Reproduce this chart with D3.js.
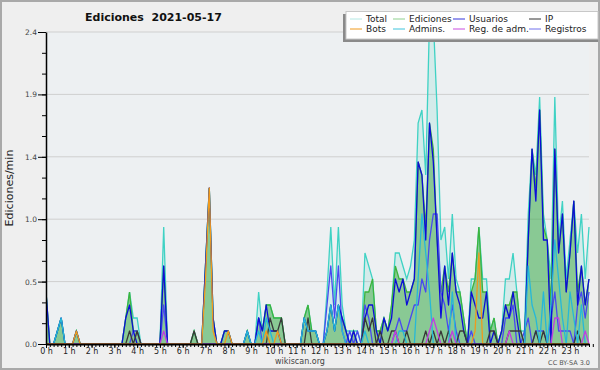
<!DOCTYPE html>
<html>
<head>
<meta charset="utf-8">
<script src="https://d3js.org/d3.v7.min.js"></script>
<style>
  body { margin: 0; background: #fff; }
  svg text { font-family: "DejaVu Sans", sans-serif; }
</style>
</head>
<body>
<svg id="chart" width="600" height="370"></svg>
<script>
// edits counted per 10-minute bin (144 bins, 00:00 .. 23:50)
const binMinutes = 10;

const hourLabels = ['0 h','1 h','2 h','3 h','4 h','5 h','6 h','7 h','8 h','9 h','10 h','11 h',
                    '12 h','13 h','14 h','15 h','16 h','17 h','18 h','19 h','20 h','21 h','22 h','23 h'];
const yTickValues = [0, 0.48, 0.96, 1.44, 1.92, 2.4];

const totalBins = [
  4,0,0,1,2,0,0,0,1,0,0,0,
  0,0,0,0,0,0,0,0,0,2,4,2,
  2,0,0,0,0,0,0,9,0,0,0,0,
  0,0,0,1,0,0,6,12,2,0,0,1,
  1,0,0,0,0,1,0,0,4,1,3,3,
  2,2,2,0,0,0,0,0,2,3,1,1,
  0,0,4,9,3,9,3,1,1,1,1,0,
  7,6,5,1,1,2,1,3,7,7,6,5,
  6,8,17,18,13,25,25,18,8,9,5,10,
  5,4,2,0,5,5,9,5,5,1,2,0,
  1,5,5,7,4,1,1,10,15,13,19,10,
  8,5,19,8,11,5,8,11,7,10,5,9
];
const edicionesBins = [
  4,0,0,1,2,0,0,0,1,0,0,0,
  0,0,0,0,0,0,0,0,0,2,4,1,
  1,0,0,0,0,0,0,6,0,0,0,0,
  0,0,0,1,0,0,6,12,2,0,0,1,
  1,0,0,0,0,1,0,0,2,1,3,3,
  2,2,2,0,0,0,0,0,2,3,1,1,
  0,0,1,3,1,3,2,1,0,1,0,0,
  4,4,5,1,1,2,1,3,6,5,5,4,
  4,5,14,13,9,17,15,8,4,6,4,7,
  4,4,2,0,4,5,9,4,4,1,2,0,
  1,3,3,4,4,1,0,8,15,12,18,9,
  8,3,15,7,10,4,7,11,4,6,3,5
];
const usuariosBins = [
  4,0,0,1,2,0,0,0,1,0,0,0,
  0,0,0,0,0,0,0,0,0,2,3,1,
  0,0,0,0,0,0,0,6,0,0,0,0,
  0,0,0,0,0,0,6,12,2,0,0,1,
  1,0,0,0,0,1,0,0,2,1,3,1,
  1,1,0,0,0,0,0,0,2,1,1,1,
  0,0,1,3,1,3,2,1,0,1,0,0,
  2,3,3,1,0,2,1,2,5,4,5,3,
  4,5,14,13,8,17,14,8,2,6,3,7,
  4,3,1,0,4,3,2,2,4,0,1,0,
  1,3,2,4,2,0,0,8,15,11,18,8,
  8,0,15,7,10,4,7,11,3,6,3,5
];
const ipBins = [
  0,0,0,0,0,0,0,0,0,0,0,0,
  0,0,0,0,0,0,0,0,0,0,1,0,
  1,0,0,0,0,0,0,0,0,0,0,0,
  0,0,0,1,0,0,0,0,0,0,0,0,
  0,0,0,0,0,0,0,0,0,0,0,2,
  1,1,2,0,0,0,0,0,0,2,0,0,
  0,0,0,0,0,0,0,0,0,0,0,0,
  2,1,2,0,1,0,0,1,1,0,0,1,
  0,0,0,0,1,0,1,0,1,0,1,0,
  0,1,1,0,0,0,0,0,0,1,1,0,
  0,0,1,1,1,1,0,0,0,1,0,1,
  0,0,0,0,0,0,0,0,1,0,0,0
];
const botsBins = [
  0,0,0,0,0,0,0,0,1,0,0,0,
  0,0,0,0,0,0,0,0,0,0,0,0,
  0,0,0,0,0,0,0,0,0,0,0,0,
  0,0,0,0,0,0,5,12,1,0,0,0,
  1,0,0,0,0,0,0,0,0,0,1,0,
  0,1,0,0,0,0,0,0,0,0,0,0,
  0,0,0,0,0,0,0,0,0,0,0,0,
  0,0,0,0,0,0,0,0,0,0,0,0,
  0,0,0,0,0,0,0,0,0,0,0,0,
  0,0,0,0,0,1,7,0,0,0,0,0,
  0,0,0,0,0,0,0,0,0,0,0,0,
  0,0,0,0,0,0,0,0,0,0,0,0
];
const adminsBins = [
  0,0,0,1,2,0,0,0,0,0,0,0,
  0,0,0,0,0,0,0,0,0,0,0,0,
  0,0,0,0,0,0,0,0,0,0,0,0,
  0,0,0,0,0,0,0,0,0,0,0,0,
  0,0,0,0,0,1,0,0,1,0,2,1,
  0,0,0,0,0,0,0,0,2,1,1,1,
  0,0,1,3,1,3,1,0,0,0,0,0,
  1,0,0,0,0,0,0,0,0,1,1,0,
  0,0,5,10,7,4,0,0,0,0,0,4,
  0,0,0,0,0,0,0,0,0,0,0,0,
  0,0,0,0,0,0,0,6,3,2,0,4,
  0,3,8,5,2,0,4,2,0,3,0,0
];
const regAdmBins = [
  0,0,0,0,0,0,0,0,0,0,0,0,
  0,0,0,0,0,0,0,0,0,0,0,0,
  0,0,0,0,0,0,0,1,0,0,0,0,
  0,0,0,0,0,0,0,0,0,0,0,0,
  0,0,0,0,0,0,0,0,0,0,0,0,
  0,0,0,0,0,0,0,0,0,0,0,0,
  0,0,0,0,0,0,0,0,0,0,0,0,
  0,0,0,0,0,0,0,0,1,0,0,0,
  0,0,0,0,0,1,2,1,0,0,0,1,
  0,0,0,0,0,0,0,0,0,0,0,0,
  0,0,1,0,0,0,0,0,0,0,0,0,
  0,0,2,2,0,0,0,0,0,0,1,0
];
const registrosBins = [
  0,0,0,0,0,0,0,0,0,0,0,0,
  0,0,0,0,0,0,0,0,0,0,0,1,
  1,0,0,0,0,0,0,3,0,0,0,0,
  0,0,0,0,0,0,0,0,0,0,0,0,
  0,0,0,0,0,0,0,0,2,0,0,0,
  0,0,0,0,0,0,0,0,0,0,0,0,
  0,0,3,6,2,6,1,0,1,0,1,0,
  3,2,0,0,0,0,0,0,1,2,1,1,
  2,3,3,5,4,8,10,10,4,3,1,3,
  1,0,0,0,1,0,0,0,0,0,0,0,
  0,2,2,3,0,0,1,2,0,1,1,1,
  0,2,4,1,1,1,1,0,3,4,2,4
];

// edits per minute
const perMin = arr => arr.map(c => c / binMinutes);

const svg = d3.select('#chart');
const plotLeft = 46, plotRight = 589, plotTop = 32, plotBottom = 344;

const x = d3.scaleLinear().domain([0, totalBins.length - 1]).range([plotLeft, plotRight]);
const y = d3.scaleLinear().domain([0, 2.4]).range([plotBottom, plotTop]);

// background + frame
svg.append('rect')
    .attr('x', 1).attr('y', 1).attr('width', 598).attr('height', 368)
    .attr('fill', '#efefef')
    .attr('stroke', '#a9a9a9')
    .attr('stroke-width', 2);

svg.append('rect')
    .attr('x', plotLeft).attr('y', plotTop)
    .attr('width', plotRight - plotLeft).attr('height', plotBottom - plotTop)
    .attr('fill', '#edf0f2');

// grid
svg.append('g')
    .selectAll('line')
    .data(yTickValues.slice(1))
    .enter().append('line')
    .attr('x1', plotLeft).attr('x2', plotRight)
    .attr('y1', d => y(d)).attr('y2', d => y(d))
    .attr('stroke', '#cfcfcf')
    .attr('stroke-width', 1);

svg.append('clipPath').attr('id', 'plot-clip')
    .append('rect')
    .attr('x', plotLeft).attr('y', plotTop)
    .attr('width', plotRight - plotLeft + 2).attr('height', plotBottom - plotTop);

const plot = svg.append('g').attr('clip-path', 'url(#plot-clip)');

const area = d3.area()
    .x((d, i) => x(i))
    .y0(y(0))
    .y1(d => y(d));

const line = d3.line()
    .x((d, i) => x(i))
    .y(d => y(d));

// filled series
plot.append('path')
    .datum(perMin(totalBins))
    .attr('fill', '#40d0c0')
    .attr('fill-opacity', 0.14)
    .attr('d', area);

plot.append('path')
    .datum(perMin(edicionesBins))
    .attr('fill', '#3da83d')
    .attr('fill-opacity', 0.5)
    .attr('d', area);

plot.append('path')
    .datum(perMin(totalBins))
    .attr('fill', 'none')
    .attr('stroke', '#3fd2c4')
    .attr('stroke-width', 1.3)
    .attr('d', line);

plot.append('path')
    .datum(perMin(edicionesBins))
    .attr('fill', 'none')
    .attr('stroke', '#3db43d')
    .attr('stroke-width', 1.3)
    .attr('d', line);

// plain lines, drawn in this order
const lineSeries = [
    {data: registrosBins, color: '#4848f0'},
    {data: usuariosBins, color: '#0c0cd8'},
    {data: ipBins, color: '#383838'},
    {data: adminsBins, color: '#26b8d8'},
    {data: regAdmBins, color: '#c040e0'},
    {data: botsBins, color: '#f09a1c'}
];

lineSeries.forEach(s => {
    plot.append('path')
        .datum(perMin(s.data))
        .attr('fill', 'none')
        .attr('stroke', s.color)
        .attr('stroke-width', 1.3)
        .attr('stroke-linejoin', 'round')
        .attr('d', line);
});

// y axis
const yMinor = d3.range(0, 2.41, 0.16);
svg.append('g')
    .attr('transform', `translate(${plotLeft},0)`)
    .call(d3.axisLeft(y).tickValues(yMinor).tickSize(4).tickSizeOuter(0).tickFormat(''))
    .call(g => g.select('.domain').remove())
    .selectAll('line').attr('stroke', '#000');

const yAxis = svg.append('g')
    .attr('transform', `translate(${plotLeft},0)`)
    .call(d3.axisLeft(y).tickValues(yTickValues).tickSize(8).tickSizeOuter(0)
        .tickPadding(1).tickFormat(d3.format('.1f')));
yAxis.select('.domain').attr('stroke', '#000').attr('stroke-width', 1.5);
yAxis.selectAll('text')
    .style('font-family', '"DejaVu Sans", sans-serif')
    .style('font-size', '7.5px')
    .attr('fill', '#444');

// x axis
const xMinor = d3.range(0, totalBins.length + 1);
svg.append('g')
    .attr('transform', `translate(0,${plotBottom})`)
    .call(d3.axisBottom(x).tickValues(xMinor).tickSize(3).tickSizeOuter(0).tickFormat(''))
    .call(g => g.select('.domain').remove())
    .selectAll('line').attr('stroke', '#000');

const hourTicks = hourLabels.map((h, k) => k * 60 / binMinutes);
const xAxis = svg.append('g')
    .attr('transform', `translate(0,${plotBottom})`)
    .call(d3.axisBottom(x).tickValues(hourTicks).tickSize(4).tickSizeOuter(0)
        .tickPadding(0).tickFormat((d, k) => hourLabels[k]));
xAxis.select('.domain').attr('stroke', '#000').attr('stroke-width', 2);
xAxis.selectAll('text')
    .style('font-family', '"DejaVu Sans", sans-serif')
    .style('font-size', '8px')
    .attr('fill', '#222');

// titles
svg.append('text')
    .attr('x', 85).attr('y', 21)
    .style('font-size', '11px')
    .style('font-weight', 'bold')
    .attr('fill', '#111')
    .attr('xml:space', 'preserve')
    .text('Ediciones  2021-05-17');

svg.append('text')
    .attr('transform', 'translate(13,188) rotate(-90)')
    .attr('text-anchor', 'middle')
    .style('font-size', '11px')
    .attr('fill', '#222')
    .text('Ediciones/min');

svg.append('text')
    .attr('x', 300).attr('y', 364)
    .attr('text-anchor', 'middle')
    .style('font-size', '8px')
    .attr('fill', '#444')
    .text('wikiscan.org');

svg.append('text')
    .attr('x', 590).attr('y', 365)
    .attr('text-anchor', 'end')
    .style('font-size', '6.5px')
    .attr('fill', '#555')
    .text('CC BY-SA 3.0');

// legend
const legendNames = ['Total', 'Ediciones', 'Usuarios', 'IP', 'Bots', 'Admins.', 'Reg. de adm.', 'Registros'];
const legendColors = ['#b4e8e4', '#8fd08f', '#3434dc', '#333333', '#f09a1c', '#3ec4dc', '#c84ce0', '#7070ec'];
const legendCols = [350, 393, 453, 529];
const legendRows = [19, 29];

const legend = svg.append('g');
legend.append('rect')
    .attr('x', 343).attr('y', 14).attr('width', 255).attr('height', 28)
    .attr('fill', '#8a8a8a');
legend.append('rect')
    .attr('x', 346).attr('y', 11.5).attr('width', 252).attr('height', 27.5)
    .attr('fill', '#fff')
    .attr('stroke', '#c8c8c8')
    .attr('stroke-width', 1);

legendNames.forEach((name, k) => {
    const lx = legendCols[k % 4];
    const ly = legendRows[Math.floor(k / 4)];
    legend.append('line')
        .attr('x1', lx).attr('x2', lx + 12)
        .attr('y1', ly).attr('y2', ly)
        .attr('stroke', legendColors[k])
        .attr('stroke-width', 1);
    legend.append('text')
        .attr('x', lx + 16).attr('y', ly + 3.3)
        .style('font-size', '9px')
        .attr('fill', '#222')
        .text(name);
});
</script>
</body>
</html>
